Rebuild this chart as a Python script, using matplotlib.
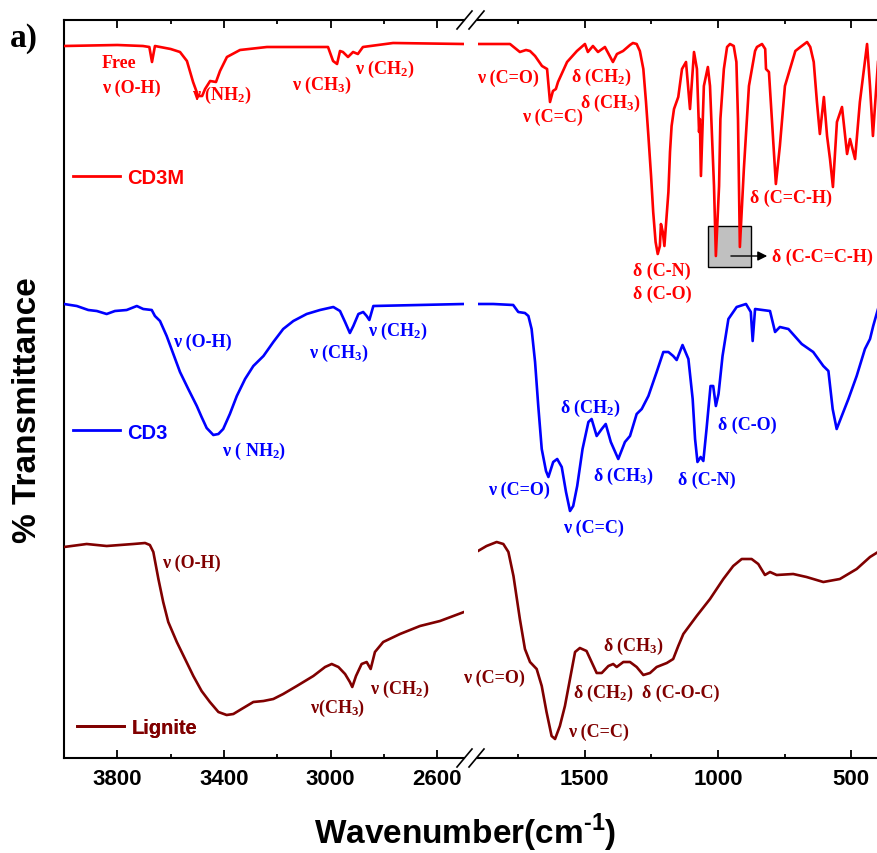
import numpy as np
import matplotlib.pyplot as plt
from matplotlib.lines import Line2D
from matplotlib.patches import Rectangle

plt.rcParams['mathtext.fontset'] = 'custom'
plt.rcParams['mathtext.rm'] = 'Liberation Sans:bold'

# FTIR spectra (wavenumber in cm-1, transmittance in arbitrary offset units)
cd3m_wn = [4000, 3800, 3704, 3680, 3670, 3659, 3600, 3565, 3539, 3516, 3497, 3482, 3471, 3452,
           3430, 3415, 3389, 3340, 3239, 3010, 2991, 2976, 2965, 2954, 2935, 2916, 2898, 2879,
           2766, 2500,
           1900, 1780, 1743, 1720, 1705, 1686, 1660, 1641, 1630, 1619, 1608, 1600, 1566, 1529,
           1499, 1488, 1469, 1450, 1424, 1394, 1379, 1356, 1330, 1319, 1305, 1293, 1280, 1270,
           1261, 1251, 1243, 1234, 1226, 1218, 1214, 1207, 1201, 1186, 1180, 1174, 1165, 1149,
           1135, 1120, 1105, 1090, 1079, 1071, 1068, 1064, 1053, 1038, 1030, 1015, 1008, 996,
           991, 978, 966, 955, 941, 931, 925, 918, 903, 884, 861, 854, 835, 823, 820, 809, 798,
           783, 768, 749, 710, 691, 666, 654, 641, 629, 618, 603, 591, 580, 569, 554, 535, 516,
           505, 486, 468, 441, 430, 419, 400]
cd3m_t = [712, 713, 712, 711, 696, 712, 709, 706, 697, 676, 662, 662, 669, 677,
          676, 687, 701, 708, 711, 711, 697, 694, 707, 706, 701, 706, 704, 711,
          715, 714,
          714, 714, 706, 708, 707, 702, 692, 689, 656, 667, 669, 676, 696, 707,
          714, 706, 712, 706, 711, 696, 704, 707, 713, 715, 714, 707, 689, 656,
          622, 582, 546, 516, 504, 512, 534, 526, 512, 566, 606, 632, 649, 661,
          689, 696, 649, 706, 689, 626, 639, 582, 672, 691, 672, 572, 502, 572,
          639, 689, 711, 714, 712, 696, 639, 511, 589, 672, 707, 711, 714, 709, 689, 686, 639,
          574, 612, 672, 707, 711, 716, 711, 696, 656, 624, 661, 622, 599, 571, 636, 651, 604,
          619, 599, 656, 714, 672, 622, 696]

cd3_wn = [4000, 3952, 3909, 3877, 3840, 3809, 3765, 3727, 3703, 3671, 3659, 3640, 3615, 3590,
          3565, 3534, 3502, 3484, 3465, 3440, 3421, 3403, 3378, 3352, 3321, 3290, 3252, 3215,
          3178, 3140, 3090, 3040, 2990, 2965, 2946, 2928, 2915, 2896, 2878, 2865, 2855, 2840,
          2500,
          1900, 1843, 1768, 1749, 1724, 1711, 1699, 1686, 1674, 1661, 1645, 1636, 1618, 1603,
          1586, 1570, 1555, 1543, 1528, 1508, 1486, 1474, 1455, 1436, 1421, 1402, 1374, 1349,
          1330, 1305, 1286, 1261, 1230, 1205, 1186, 1168, 1155, 1133, 1111, 1095, 1086, 1077,
          1065, 1055, 1043, 1028, 1018, 1008, 998, 983, 961, 930, 895, 877, 870, 861, 805, 786,
          768, 736, 686, 643, 605, 586, 570, 555, 536, 511, 480, 449, 430, 418, 400]
cd3_t = [454, 452, 448, 447, 444, 447, 448, 452, 449, 448, 442, 437, 422, 404,
         386, 369, 352, 341, 330, 323, 324, 329, 344, 362, 379, 392, 402, 416,
         429, 437, 444, 448, 451, 447, 436, 425, 432, 444, 446, 442, 438, 452,
         454,
         454, 454, 453, 446, 445, 442, 429, 396, 352, 309, 287, 281, 296, 299,
         291, 266, 247, 252, 272, 309, 336, 339, 322, 329, 334, 316, 299, 316,
         322, 344, 349, 362, 386, 406, 406, 402, 398, 413, 399, 359, 319, 296,
         301, 297, 329, 372, 372, 352, 364, 402, 439, 451, 454, 446, 417, 449, 447, 426,
         431, 429, 414, 406, 392, 387, 349, 329, 342, 359, 382, 409, 419, 432, 449]

lignite_wn = [4000, 3915, 3840, 3740, 3696, 3678, 3665, 3646, 3628, 3609, 3577, 3546, 3515, 3484,
              3453, 3421, 3390, 3365, 3334, 3290, 3252, 3215, 3178, 3127, 3065, 3021, 2996, 2971,
              2946, 2928, 2919, 2905, 2884, 2865, 2850, 2834, 2803, 2740, 2665, 2590, 2500,
              1900, 1868, 1830, 1805, 1786, 1767, 1743, 1724, 1705, 1680, 1661, 1643, 1624, 1611,
              1593, 1574, 1555, 1536, 1518, 1493, 1474, 1455, 1436, 1411, 1393, 1380, 1355, 1330,
              1305, 1280, 1255, 1230, 1192, 1168, 1149, 1130, 1080, 1030, 980, 943, 911, 874, 849,
              824, 805, 780, 718, 668, 605, 543, 480, 430, 400]
lignite_t = [211, 214, 212, 214, 215, 213, 206, 179, 156, 136, 116, 99, 82, 67,
             56, 46, 43, 44, 49, 56, 57, 59, 64, 72, 82, 91, 94, 91,
             84, 76, 71, 82, 94, 96, 89, 106, 116, 124, 132, 137, 146,
             207, 212, 216, 214, 206, 182, 139, 109, 96, 89, 72, 46, 22, 19,
             32, 52, 79, 106, 110, 107, 96, 85, 85, 92, 94, 91, 96, 96,
             91, 83, 85, 91, 95, 99, 112, 124, 142, 159, 179, 192, 199, 199, 194,
             183, 186, 183, 184, 181, 176, 179, 189, 201, 206]

names = ['CD3M', 'CD3', 'Lignite']
colors = ['#FF0000', '#0000FF', '#800000']

W, H = 877, 854
fig = plt.figure(figsize=(W / 100, H / 100), dpi=100)


def box(x0, y0, x1, y1):
    return [x0 / W, 1 - y1 / H, (x1 - x0) / W, (y1 - y0) / H]


ax1 = fig.add_axes(box(64, 21, 464, 759))
ax2 = fig.add_axes(box(478, 21, 878, 759))

sans = dict(family='Liberation Sans', weight='bold')
serif = dict(family='Liberation Serif', weight='bold', fontsize=13)

lines = []
for wn, t, c in zip([cd3m_wn, cd3_wn, lignite_wn], [cd3m_t, cd3_t, lignite_t], colors):
    wn = np.array(wn)
    t = np.array(t)
    for ax in (ax1, ax2):
        ln, = ax.plot(wn, t, color=c, lw=1.9, solid_joinstyle='round', zorder=3)
    lines.append(ln)

ax1.set_xlim(4000, 2500)
ax2.set_xlim(1900, 400)
for ax in (ax1, ax2):
    ax.set_ylim(0, 738)
    ax.set_yticks([])
    ax.spines['right'].set_visible(False)
    for s in ax.spines.values():
        s.set_linewidth(1.5)
    ax.tick_params(axis='x', which='both', direction='in', top=True, width=1.3, pad=7)
    ax.tick_params(axis='x', which='major', length=6)
    ax.tick_params(axis='x', which='minor', length=3)
ax2.spines['left'].set_visible(False)

ax1.set_xticks([3800, 3400, 3000, 2600])
ax1.set_xticks([3600, 3200, 2800], minor=True)
ax2.set_xticks([1500, 1000, 500])
ax2.set_xticks([1750, 1250, 750], minor=True)
for ax in (ax1, ax2):
    for lab in ax.get_xticklabels():
        lab.set_fontfamily('Liberation Sans')
        lab.set_fontweight('bold')
        lab.set_fontsize(16)

# axis break marks
for y in (21, 759):
    for xc in (464.5, 476.5):
        fig.add_artist(Line2D([(xc - 7.5) / W, (xc + 7.5) / W], [1 - (y + 9) / H, 1 - (y - 9) / H],
                              transform=fig.transFigure, color='black', lw=1.2))

# legends, one per spectrum
for ln, name, (x, y) in zip(lines, names, [(0.0225, 0.787), (0.0225, 0.4417), (0.0325, 0.0407)]):
    h = Line2D([], [], color=ln.get_color(), lw=2)
    leg = ax1.legend([h], [name], loc='center left', bbox_to_anchor=(x, y), frameon=False,
                     handlelength=2.35, handletextpad=0.35, borderpad=0, borderaxespad=0,
                     prop=dict(family='Liberation Sans', weight='bold', size=14.5), labelcolor='linecolor')
    ax1.add_artist(leg)


def note(ax, x, y, s, c, ha='left'):
    ax.text(x, y, s, color=c, ha=ha, va='center', clip_on=False, **serif)


sub2 = r'$\mathregular{_2}$'
sub3 = r'$\mathregular{_3}$'

# CD3M
r = colors[0]
note(ax1, 3857, 695, 'Free', r)
note(ax1, 3857, 671, 'ν (O-H)', r)
note(ax1, 3520, 664, 'ν (NH' + sub2 + ')', r)
note(ax1, 3145, 674, 'ν (CH' + sub3 + ')', r)
note(ax1, 2909, 690, 'ν (CH' + sub2 + ')', r)
note(ax2, 1904, 681, 'ν (C=O)', r)
note(ax2, 1735, 642, 'ν (C=C)', r)
note(ax2, 1551, 682, 'δ (CH' + sub2 + ')', r)
note(ax2, 1518, 656, 'δ (CH' + sub3 + ')', r)
note(ax2, 1210, 488, 'δ (C-N)', r, ha='center')
note(ax2, 1210, 465, 'δ (C-O)', r, ha='center')
note(ax2, 880, 561, 'δ (C=C-H)', r)
ax2.add_patch(Rectangle((876, 491), 161.5, 41, facecolor='#C0C0C0', edgecolor='black', lw=1, zorder=1))
ax2.annotate('', xy=(805, 502), xytext=(962, 502),
             arrowprops=dict(arrowstyle='-|>', color='black', lw=1, mutation_scale=14), zorder=2)
note(ax2, 797, 502, 'δ (C-C=C-H)', r)

# CD3
b = colors[1]
note(ax1, 3591, 417, 'ν (O-H)', b)
note(ax1, 3407, 308, 'ν ( NH' + sub2 + ')', b)
note(ax1, 3081, 406, 'ν (CH' + sub3 + ')', b)
note(ax1, 2860, 428, 'ν (CH' + sub2 + ')', b)
note(ax2, 1862, 269, 'ν (C=O)', b)
note(ax2, 1581, 231, 'ν (C=C)', b)
note(ax2, 1592, 351, 'δ (CH' + sub2 + ')', b)
note(ax2, 1469, 283, 'δ (CH' + sub3 + ')', b)
note(ax2, 1150, 279, 'δ (C-N)', b)
note(ax2, 1000, 334, 'δ (C-O)', b)

# Lignite
m = colors[2]
note(ax1, 3632, 196, 'ν (O-H)', m)
note(ax1, 3077, 51, 'ν(CH' + sub3 + ')', m)
note(ax1, 2852, 70, 'ν (CH' + sub2 + ')', m)
note(ax2, 1956, 81, 'ν (C=O)', m)
note(ax2, 1431, 113, 'δ (CH' + sub3 + ')', m)
note(ax2, 1544, 66, 'δ (CH' + sub2 + ')', m)
note(ax2, 1285, 66, 'δ (C-O-C)', m)
note(ax2, 1562, 27, 'ν (C=C)', m)

fig.text(465 / W, 1 - 833 / H, r'Wavenumber(cm$^{\text{-1}}$)', ha='center', va='center',
         fontsize=24, **sans)
fig.text(28 / W, 1 - 410 / H, '% Transmittance', rotation=90, ha='center', va='center',
         fontsize=24, **sans)
fig.text(10 / W, 1 - 38 / H, 'a)', ha='left', va='center', family='Liberation Serif',
         weight='bold', fontsize=24)

plt.savefig('out.png', dpi=100)
